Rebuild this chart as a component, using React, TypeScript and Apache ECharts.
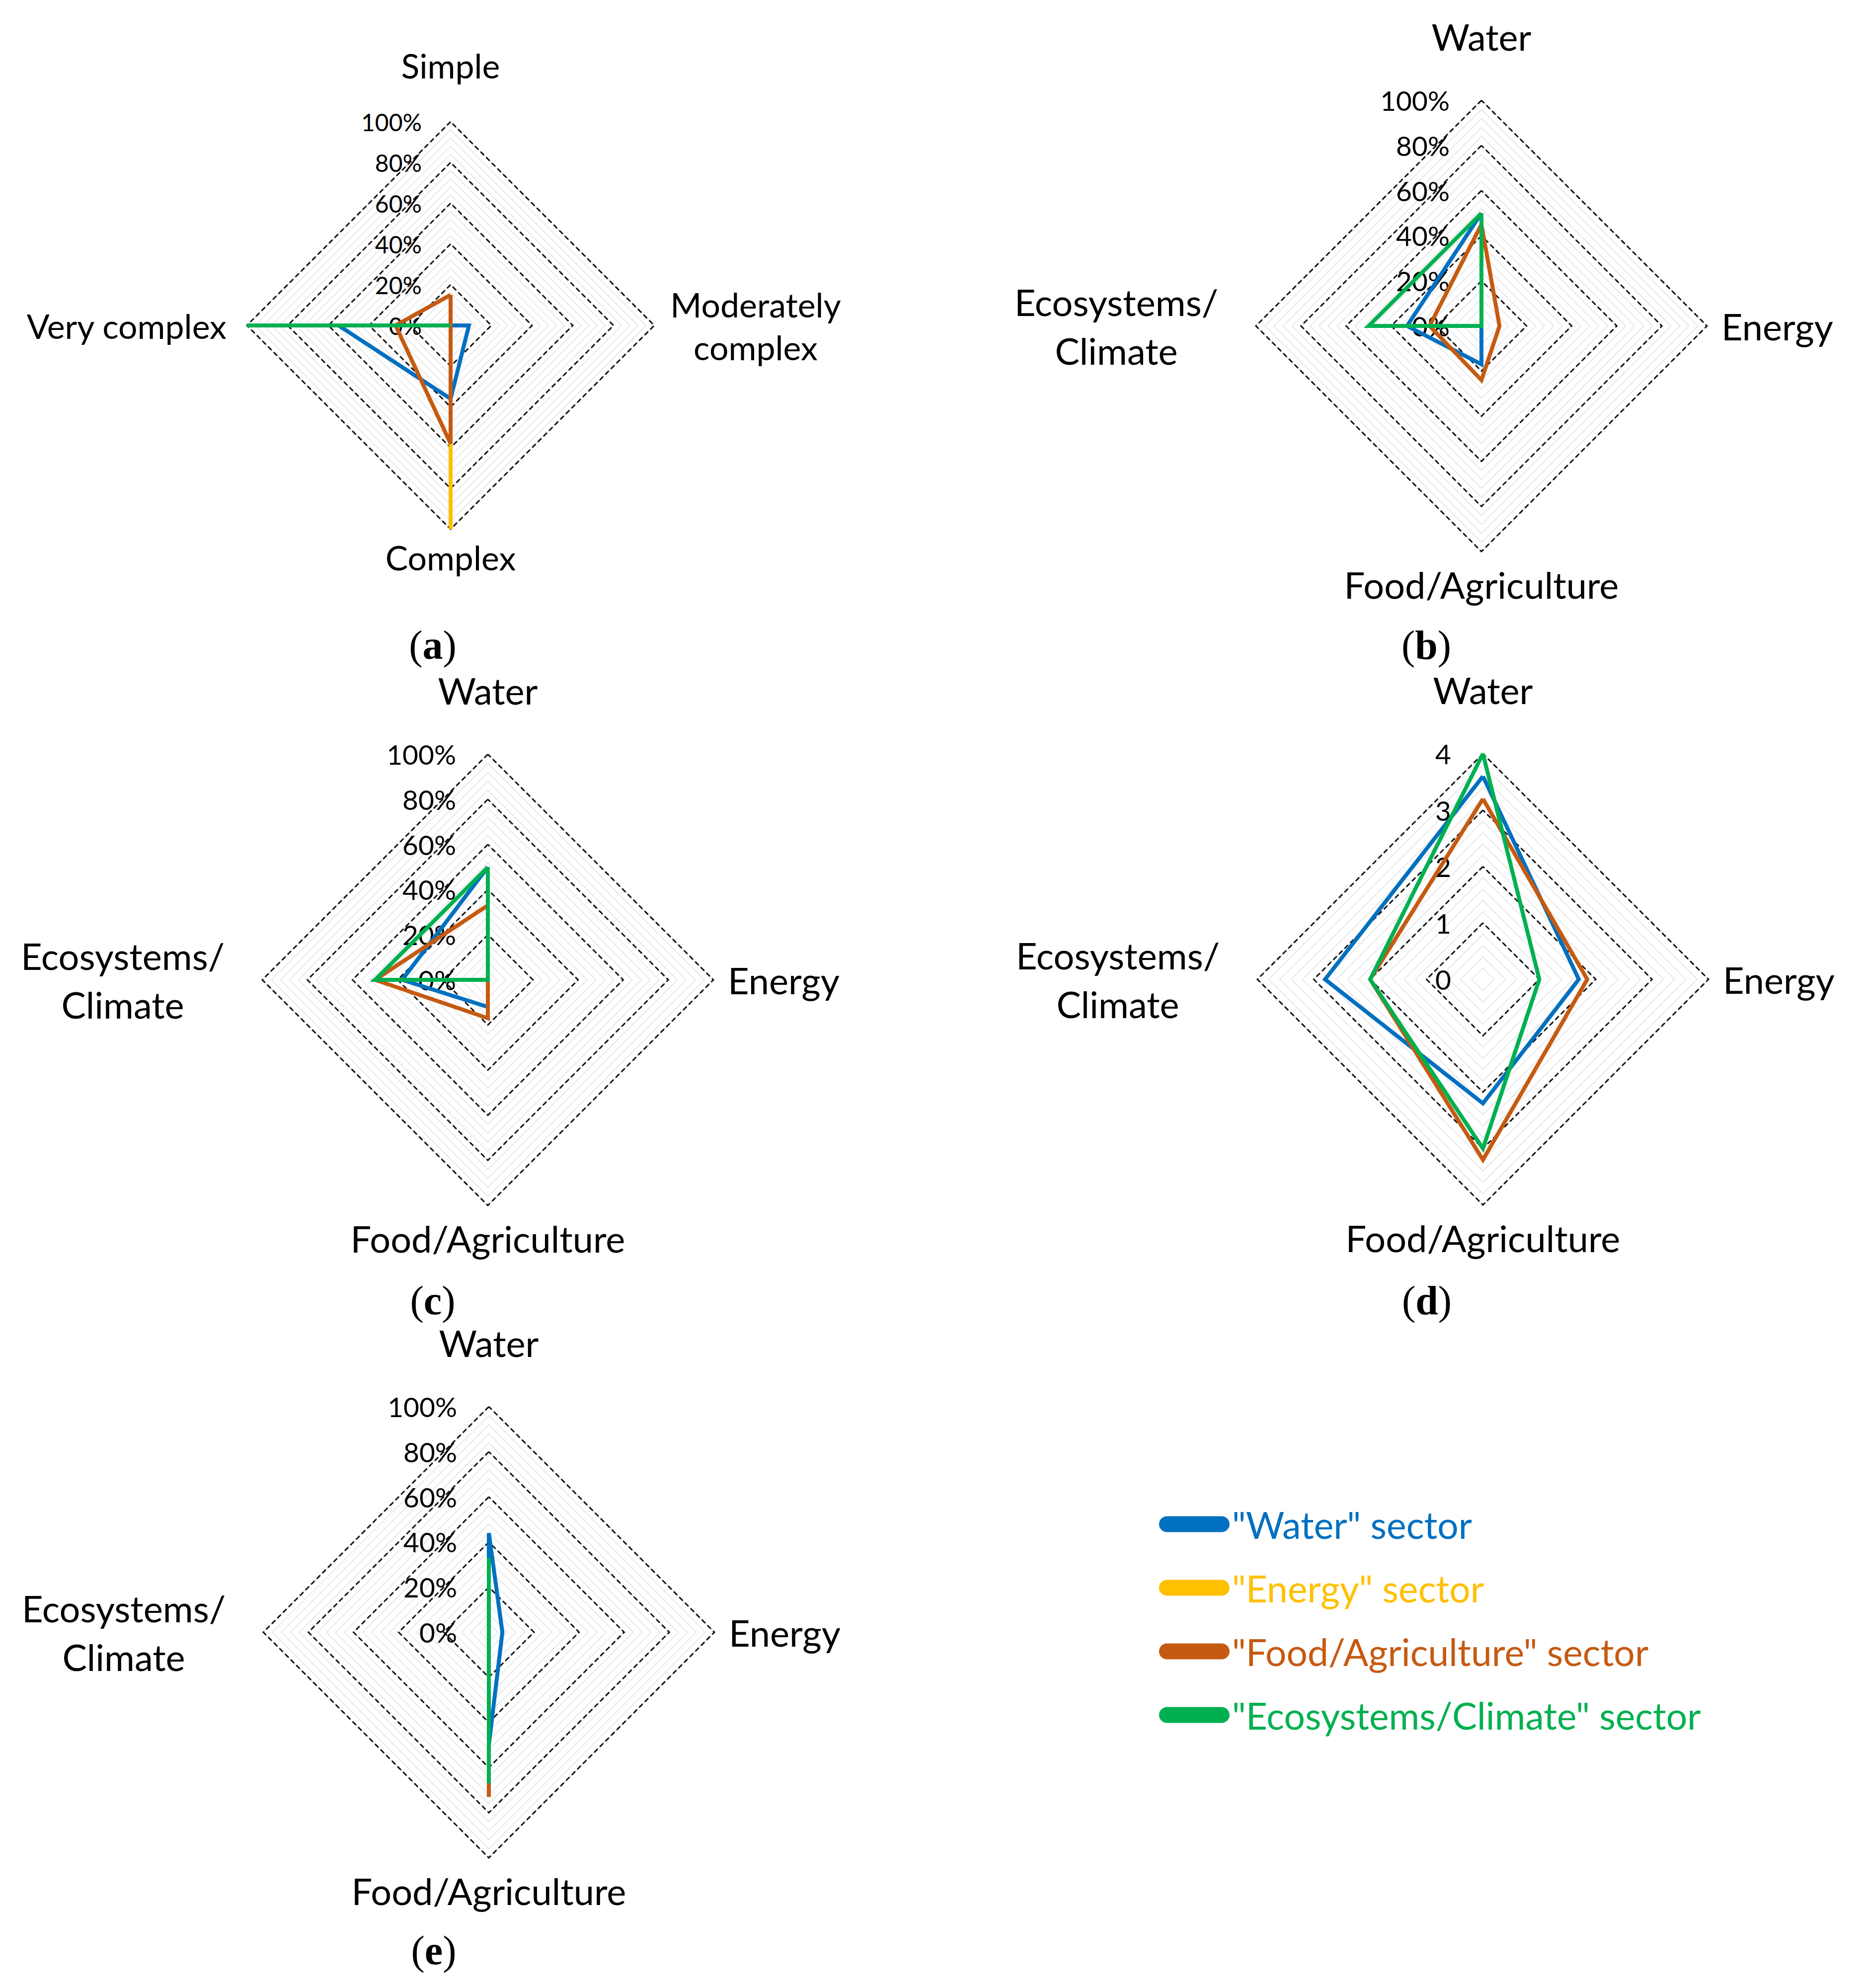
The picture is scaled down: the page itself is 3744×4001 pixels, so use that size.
import React, { useEffect, useRef } from 'react';
import * as echarts from 'echarts';

// ---------- data ----------
// Axis labels, listed clockwise from the top axis: [top, right, bottom, left]
const COMPLEXITY_LABELS = ['Simple', 'Moderately\ncomplex', 'Complex', 'Very complex'];
const SECTOR_LABELS = ['Water', 'Energy', 'Food/Agriculture', 'Ecosystems/\nClimate'];

const SERIES_NAMES = ['"Water" sector', '"Energy" sector', '"Food/Agriculture" sector', '"Ecosystems/Climate" sector'];
const SERIES_COLORS = ['#0070C0', '#FFC000', '#C55A11', '#00B050'];

const PCT_MAX = 100;
const SCORE_MAX = 4;

// (a) % by complexity: Simple, Moderately complex, Complex, Very complex
const A_WATER = [0, 9, 36, 55];
const A_ENERGY = [0, 0, 100, 0];
const A_FOOD = [15, 0, 58, 27];
const A_ECO = [0, 0, 0, 100];

// (b) % : Water, Energy, Food/Agriculture, Ecosystems/Climate
const B_WATER = [50, 0, 17, 33];
const B_FOOD = [45, 8, 24, 23];
const B_ECO = [50, 0, 0, 50];

// (c) %
const C_WATER = [50, 0, 12, 38];
const C_FOOD = [33, 0, 17, 50];
const C_ECO = [50, 0, 0, 50];

// (d) score 0-4
const D_WATER = [3.6, 1.7, 2.2, 2.8];
const D_FOOD = [3.2, 1.85, 3.2, 2.0];
const D_ECO = [4.0, 1.0, 3.0, 2.0];

// (e) %
const E_WATER = [44, 6, 50, 0];
const E_FOOD = [27, 0, 73, 0];
const E_ECO = [33, 0, 67, 0];

// ---------- layout ----------
const FONT = 'Lato, "Open Sans", sans-serif';
const SERIF = '"Liberation Serif", "DejaVu Serif", serif';
// clockwise [top, right, bottom, left] -> echarts indicator order (counter-clockwise from top)
const ORDER = [0, 3, 2, 1];

type Panel = {
  letter: string;
  labels: string[];
  max: number;
  majorSplit: number;
  minorSplit: number;
  unit: string;
  series: { idx: number; values: number[] }[];
  center: [number, number];
  radius: number;
  nameSize: number;
  tickSize: number;
  tickMargin: number;
  nameGaps: number[];
  multiIdx: number;
  lineHeight: number;
  letterPos: [number, number];
};

const SECTOR_GAPS = [92, 29, 29, 281];

const PANELS: Panel[] = [
  {
    letter: 'a', labels: COMPLEXITY_LABELS, max: PCT_MAX, majorSplit: 5, minorSplit: 25, unit: '%',
    series: [{ idx: 0, values: A_WATER }, { idx: 1, values: A_ENERGY }, { idx: 2, values: A_FOOD }, { idx: 3, values: A_ECO }],
    center: [907, 655], radius: 410, nameSize: 68, tickSize: 48, tickMargin: 58,
    nameGaps: [80, 204, 22, 41], multiIdx: 1, lineHeight: 86, letterPos: [871, 1298],
  },
  {
    letter: 'b', labels: SECTOR_LABELS, max: PCT_MAX, majorSplit: 5, minorSplit: 25, unit: '%',
    series: [{ idx: 0, values: B_WATER }, { idx: 2, values: B_FOOD }, { idx: 3, values: B_ECO }],
    center: [2982, 656], radius: 454, nameSize: 74, tickSize: 55, tickMargin: 64,
    nameGaps: SECTOR_GAPS, multiIdx: 3, lineHeight: 98, letterPos: [2871, 1298],
  },
  {
    letter: 'c', labels: SECTOR_LABELS, max: PCT_MAX, majorSplit: 5, minorSplit: 25, unit: '%',
    series: [{ idx: 0, values: C_WATER }, { idx: 2, values: C_FOOD }, { idx: 3, values: C_ECO }],
    center: [982, 1972], radius: 454, nameSize: 74, tickSize: 55, tickMargin: 64,
    nameGaps: SECTOR_GAPS, multiIdx: 3, lineHeight: 98, letterPos: [871, 2617],
  },
  {
    letter: 'd', labels: SECTOR_LABELS, max: SCORE_MAX, majorSplit: 4, minorSplit: 20, unit: '',
    series: [{ idx: 0, values: D_WATER }, { idx: 2, values: D_FOOD }, { idx: 3, values: D_ECO }],
    center: [2985, 1971], radius: 454, nameSize: 74, tickSize: 55, tickMargin: 64,
    nameGaps: SECTOR_GAPS, multiIdx: 3, lineHeight: 98, letterPos: [2872, 2617],
  },
  {
    letter: 'e', labels: SECTOR_LABELS, max: PCT_MAX, majorSplit: 5, minorSplit: 25, unit: '%',
    series: [{ idx: 0, values: E_WATER }, { idx: 2, values: E_FOOD }, { idx: 3, values: E_ECO }],
    center: [984, 3285], radius: 454, nameSize: 74, tickSize: 55, tickMargin: 64,
    nameGaps: SECTOR_GAPS, multiIdx: 3, lineHeight: 98, letterPos: [873, 3925],
  },
];

function buildOption() {
  const radars: any[] = [];
  const series: any[] = [];
  PANELS.forEach((p, pi) => {
    // minor light-grey rings
    radars.push({
      center: p.center,
      radius: p.radius,
      shape: 'polygon',
      startAngle: 90,
      splitNumber: p.minorSplit,
      indicator: ORDER.map(() => ({ name: '', min: 0, max: p.max })),
      axisName: { show: false },
      axisLine: { show: false },
      axisTick: { show: false },
      axisLabel: { show: false },
      splitArea: { show: false },
      splitLine: { lineStyle: { color: '#E2E2E2', width: 1.6 } },
      silent: true,
    });
    // major dashed rings, names and tick labels
    radars.push({
      center: p.center,
      radius: p.radius,
      shape: 'polygon',
      startAngle: 90,
      splitNumber: p.majorSplit,
      indicator: ORDER.map((k, i) => {
        const ind: any = {
          name: p.labels[k],
          min: 0,
          max: p.max,
          nameGap: p.nameGaps[k],
        };
        if (k === p.multiIdx) {
          ind.nameTextStyle = { align: 'center', verticalAlign: 'middle', lineHeight: p.lineHeight };
        }
        if (i === 0) {
          ind.axisLabel = {
            show: true,
            color: '#000',
            fontFamily: FONT,
            fontSize: p.tickSize,
            margin: p.tickMargin,
            formatter: (v: number) => `${v}${p.unit}`,
          };
        }
        return ind;
      }),
      axisName: { color: '#000', fontFamily: FONT, fontSize: p.nameSize },
      axisLine: { show: false },
      axisTick: { show: false },
      axisLabel: { show: false },
      splitArea: { show: false },
      splitLine: { lineStyle: { color: '#111', width: 3, type: [10, 6] } },
      silent: true,
    });
    p.series.forEach((s) => {
      const color = SERIES_COLORS[s.idx];
      series.push({
        type: 'radar',
        radarIndex: pi * 2 + 1,
        name: SERIES_NAMES[s.idx],
        symbol: 'none',
        silent: true,
        itemStyle: { color },
        lineStyle: { color, width: 8, join: 'miter' },
        data: [{ name: SERIES_NAMES[s.idx], value: ORDER.map((k) => s.values[k]) }],
      });
    });
  });

  return {
    animation: false,
    backgroundColor: '#fff',
    radar: radars,
    series,
    legend: {
      orient: 'vertical',
      left: 2333,
      top: 3030,
      padding: 0,
      itemWidth: 142,
      itemHeight: 32,
      itemGap: 53,
      selectedMode: false,
      icon: 'path://M16 0H126A16 16 0 0 1 126 32H16A16 16 0 0 1 16 0Z',
      textStyle: { fontFamily: FONT, fontSize: 75 },
      data: SERIES_NAMES.map((n, i) => ({ name: n, textStyle: { color: SERIES_COLORS[i] } })),
    },
    graphic: PANELS.map((p) => ({
      type: 'text',
      x: p.letterPos[0],
      y: p.letterPos[1],
      style: {
        text: `{p|(}{l|${p.letter}}{p|)}`,
        align: 'center',
        verticalAlign: 'middle',
        rich: {
          p: { fontFamily: SERIF, fontSize: 82, fill: '#000' },
          l: { fontFamily: SERIF, fontSize: 82, fontWeight: 'bold', fill: '#000' },
        },
      },
    })),
  };
}

export default function App() {
  const ref = useRef<HTMLDivElement>(null);
  useEffect(() => {
    if (!ref.current) return;
    const chart = echarts.init(ref.current, null, { renderer: 'svg' });
    chart.setOption(buildOption() as any);
    return () => chart.dispose();
  }, []);
  return (
    <div
      ref={ref}
      style={{ position: 'absolute', left: 0, top: 0, width: 3744, height: 4001, background: '#fff' }}
    />
  );
}
